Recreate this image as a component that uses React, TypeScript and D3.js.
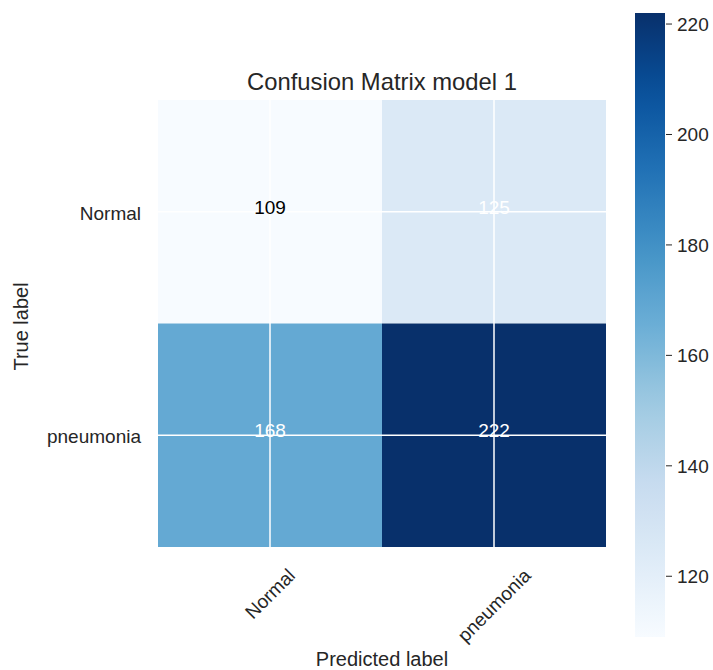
import React from "react";
import * as d3 from "d3";

const trueLabels = ["Normal", "pneumonia"];
const predictedLabels = ["Normal", "pneumonia"];
const countsNormal = [109, 125];
const countsPneumonia = [168, 222];
const colorbarTicks = [120, 140, 160, 180, 200, 220];
const title = "Confusion Matrix model 1";
const xTitle = "Predicted label";
const yTitle = "True label";

const bluesStops = ["#f7fbff", "#deebf7", "#c6dbef", "#9ecae1", "#6baed6", "#4292c6", "#2171b5", "#08519c", "#08306b"];

const W = 713;
const H = 670;
const FONT = "'Liberation Sans', Arial, sans-serif";
const TXT = "#262626";

function measure(text: string, size: number): number {
  if (typeof document === "undefined") return text.length * size * 0.55;
  const c = document.createElement("canvas").getContext("2d");
  if (!c) return text.length * size * 0.55;
  c.font = `${size}px 'Liberation Sans', Arial, sans-serif`;
  return c.measureText(text).width;
}

export default function App() {
  const matrix = [countsNormal, countsPneumonia];
  const all = matrix.flat();
  const vmin = d3.min(all) as number;
  const vmax = d3.max(all) as number;
  const interp = d3.piecewise(d3.interpolateRgb, bluesStops);
  const color = (v: number) => interp((v - vmin) / (vmax - vmin));
  const thresh = vmax / 2;

  const x = d3.scaleBand<string>().domain(predictedLabels).range([158, 606]).padding(0);
  const y = d3.scaleBand<string>().domain(trueLabels).range([100, 547]).padding(0);
  const cb = d3.scaleLinear().domain([vmin, vmax]).range([637, 13]);
  const cbX = 635;
  const cbW = 30;

  const gradStops = d3.range(0, 1.0001, 0.05);
  const tickSize = 19;
  const xLabelTop = 565;

  return (
    <svg width={W} height={H} style={{ display: "block", position: "absolute", left: 0, top: 0, background: "#fff" }} fontFamily={FONT}>
      <defs>
        <linearGradient id="cbgrad" x1="0" y1="1" x2="0" y2="0">
          {gradStops.map((t) => (
            <stop key={t} offset={t} stopColor={interp(t)} />
          ))}
        </linearGradient>
      </defs>
      <rect x={0} y={0} width={W} height={H} fill="#fff" />
      <text x={(x.range()[0] + x.range()[1]) / 2} y={90} textAnchor="middle" fontSize={23.8} fill={TXT}>
        {title}
      </text>
      {matrix.map((row, i) =>
        row.map((v, j) => (
          <rect
            key={`c${i}${j}`}
            x={x(predictedLabels[j])}
            y={y(trueLabels[i])}
            width={x.bandwidth()}
            height={y.bandwidth()}
            fill={color(v)}
          />
        ))
      )}
      {predictedLabels.map((l) => (
        <line key={`gx${l}`} x1={(x(l) as number) + x.bandwidth() / 2} x2={(x(l) as number) + x.bandwidth() / 2} y1={y.range()[0]} y2={y.range()[1]} stroke="#fff" strokeWidth={1.5} />
      ))}
      {trueLabels.map((l) => (
        <line key={`gy${l}`} y1={(y(l) as number) + y.bandwidth() / 2} y2={(y(l) as number) + y.bandwidth() / 2} x1={x.range()[0]} x2={x.range()[1]} stroke="#fff" strokeWidth={1.5} />
      ))}
      {matrix.map((row, i) =>
        row.map((v, j) => (
          <text
            key={`t${i}${j}`}
            x={(x(predictedLabels[j]) as number) + x.bandwidth() / 2}
            y={(y(trueLabels[i]) as number) + y.bandwidth() / 2 + 2}
            textAnchor="middle"
            fontSize={19}
            fill={v > thresh ? "#ffffff" : "#000000"}
          >
            {v}
          </text>
        ))
      )}
      {trueLabels.map((l) => (
        <text key={`yl${l}`} x={141} y={(y(l) as number) + y.bandwidth() / 2 + 8} textAnchor="end" fontSize={tickSize} fill={TXT}>
          {l}
        </text>
      ))}
      {predictedLabels.map((l) => {
        const w = measure(l, tickSize);
        const h = tickSize * 1.05;
        const cx = (x(l) as number) + x.bandwidth() / 2;
        const cy = xLabelTop + ((w + h) * Math.SQRT1_2) / 2;
        return (
          <text
            key={`xl${l}`}
            x={cx}
            y={cy}
            textAnchor="middle"
            dy="0.35em"
            fontSize={tickSize}
            fill={TXT}
            transform={`rotate(-45 ${cx} ${cy})`}
          >
            {l}
          </text>
        );
      })}
      <text x={(x.range()[0] + x.range()[1]) / 2} y={666} textAnchor="middle" fontSize={20} fill={TXT}>
        {xTitle}
      </text>
      <text
        transform={`translate(28 ${(y.range()[0] + y.range()[1]) / 2 + 3}) rotate(-90)`}
        textAnchor="middle"
        fontSize={20}
        fill={TXT}
      >
        {yTitle}
      </text>
      <rect x={cbX} y={cb.range()[1]} width={cbW} height={cb.range()[0] - cb.range()[1]} fill="url(#cbgrad)" />
      {colorbarTicks.map((t) => (
        <g key={`cb${t}`}>
          <line x1={cbX + cbW + 1} x2={cbX + cbW + 7} y1={cb(t)} y2={cb(t)} stroke={TXT} strokeWidth={1} />
          <text x={cbX + cbW + 12} y={cb(t) + 7} fontSize={tickSize} fill={TXT}>
            {t}
          </text>
        </g>
      ))}
    </svg>
  );
}
